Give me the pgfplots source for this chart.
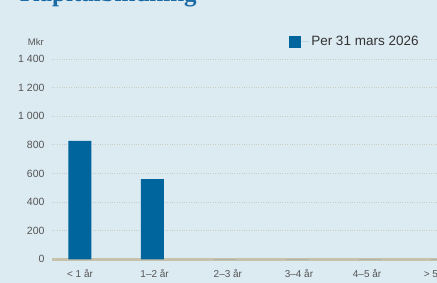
\documentclass[border=0pt]{standalone}
\usepackage{pgfplots}
\pgfplotsset{compat=1.18}
\usepackage{fontspec}
\setmainfont{Liberation Sans}
\newfontfamily\titlefont{Liberation Serif}
\definecolor{bg}{HTML}{DCEAF2}
\definecolor{barblue}{HTML}{00659D}
\definecolor{titleblue}{HTML}{1A6AA6}
\definecolor{gridc}{HTML}{C8CCC4}
\definecolor{basec}{HTML}{C6C2AC}
\definecolor{ticktext}{HTML}{555555}
\definecolor{legtext}{HTML}{333333}
\begin{document}
\begin{tikzpicture}[x=1pt,y=1pt]
\useasboundingbox (0,0) rectangle (437,283);
\fill[bg] (0,0) rectangle (437,283);
\begin{scope}
\clip (0,0) rectangle (437,283);
\node[anchor=base west, inner sep=0pt, text=titleblue,
  font=\titlefont\bfseries\fontsize{25}{25}\selectfont] at (20,281.5) {Kapitalbindning};
\node[anchor=east, inner sep=0pt, text=ticktext, font=\fontsize{9.5}{10}\selectfont] at (44,241) {Mkr};
\begin{axis}[
  at={(52pt,23.7pt)}, anchor=south west,
  scale only axis, width=463pt, height=200.3pt,
  xmin=-0.386, xmax=6, ymin=0, ymax=1400,
  axis line style={draw=none},
  major tick length=0pt,
  ytick={0,200,...,1400},
  xtick={0,1.03,2.04,3.02,3.96,4.92},
  xticklabels={{< 1 år},{1–2 år},{2–3 år},{3–4 år},{4–5 år},{> 5 år}},
  /pgf/number format/assume math mode=true,
  /pgf/number format/1000 sep={\ },
  yticklabel style={text=ticktext, font=\fontsize{10.5}{11}\selectfont, anchor=east, xshift=-4pt},
  xticklabel style={text=ticktext, font=\fontsize{10}{11}\selectfont, anchor=base, yshift=-18.5pt},
  ymajorgrids,
  grid style={gridc, dotted, line width=0.8pt},
  extra y ticks={0},
  extra y tick labels={},
  extra y tick style={grid style={basec, solid, line width=3pt}},
  ybar, bar width=23pt, bar shift=0pt,
  legend style={at={(0.512,1.125)}, anchor=north west, draw=none, fill=none,
    font=\fontsize{13.5}{14}\selectfont, text=legtext, inner sep=0pt},
  legend image code/.code={\fill[barblue] (0pt,-6pt) rectangle (12pt,6pt); \path (0pt,0pt) -- (20pt,0pt);},
  clip=false,
]
\addplot[fill=barblue, draw=none] coordinates {(0,827) (1,561) (2,0) (3,0) (4,0) (5,0)};
\addlegendentry{Per 31 mars 2026}
\end{axis}
\end{scope}
\end{tikzpicture}
\end{document}
